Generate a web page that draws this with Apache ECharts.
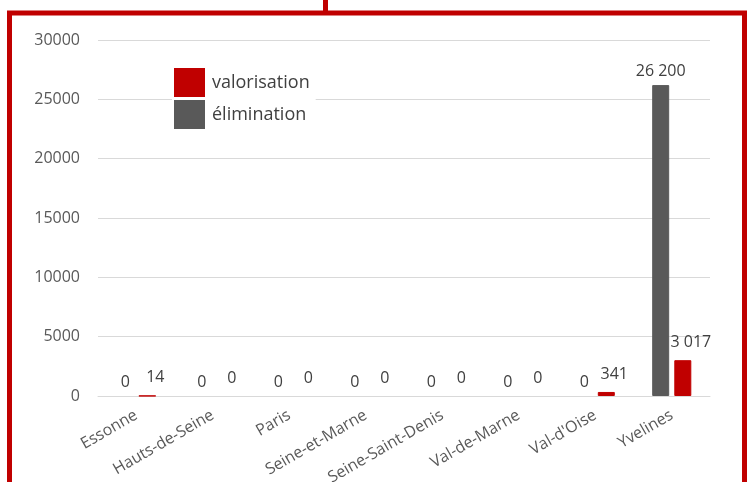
<!DOCTYPE html>
<html>
<head>
<meta charset="utf-8">
<script src="https://cdn.jsdelivr.net/npm/echarts@6/dist/echarts.min.js"></script>
<style>
html,body{margin:0;padding:0;background:#fff;}
#c{width:748px;height:482px;}
</style>
</head>
<body>
<div id="c"></div>
<script>
const categories = ['Essonne','Hauts-de-Seine','Paris','Seine-et-Marne','Seine-Saint-Denis','Val-de-Marne',"Val-d'Oise",'Yvelines'];
const elimination = [0,0,0,0,0,0,0,26200];
const valorisation = [14,0,0,0,0,0,341,3017];
const yTicks = {min:0, max:30000, interval:5000};

const FONT = '"Open Sans", sans-serif';
const fmt = v => String(v.value).replace(/\B(?=(\d{3})+(?!\d))/g, ' ');
const withEdge = (arr, color) => arr.map(v => ({value:v, itemStyle: v > 0 ? {borderColor:color, borderWidth:1} : {}}));

const chart = echarts.init(document.getElementById('c'), null, {renderer:'canvas'});
chart.setOption({
  animation:false,
  backgroundColor:'#ffffff',
  textStyle:{fontFamily:FONT},
  grid:{left:98, right:38, top:40, bottom:86, containLabel:false, outerBoundsMode:'none'},
  legend:{
    orient:'vertical', left:172, top:66,
    data:['valorisation','élimination'],
    itemWidth:31, itemHeight:29, itemGap:3,
    icon:'rect',
    backgroundColor:'#ffffff',
    padding:[2,6,2,2],
    textStyle:{fontSize:18, color:'#404040', fontFamily:FONT, padding:[0,0,0,2]}
  },
  xAxis:{
    type:'category', data:categories,
    axisLine:{show:true, lineStyle:{color:'#d9d9d9', width:1}},
    axisTick:{show:false},
    axisLabel:{rotate:30, color:'#595959', fontSize:16, fontFamily:FONT, margin:18, interval:0}
  },
  yAxis:{
    type:'value', min:yTicks.min, max:yTicks.max, interval:yTicks.interval,
    axisLine:{show:false}, axisTick:{show:false},
    splitLine:{lineStyle:{color:'#d9d9d9', width:1}},
    axisLabel:{color:'#595959', fontSize:16, fontFamily:FONT, margin:18, formatter:v => String(v)}
  },
  series:[
    {name:'élimination', type:'bar', data:withEdge(elimination,'#595959'), barWidth:17, barGap:'30%',
     itemStyle:{color:'#595959'},
     label:{show:true, position:'top', distance:6, color:'#404040', fontSize:16, fontFamily:FONT, formatter:fmt}},
    {name:'valorisation', type:'bar', data:withEdge(valorisation,'#c00000'), barWidth:17, barGap:'30%',
     itemStyle:{color:'#c00000'},
     label:{show:true, position:'top', distance:10, offset:[8,0], color:'#404040', fontSize:16, fontFamily:FONT, formatter:fmt}}
  ],
  graphic:[
    {type:'rect', shape:{x:9.5, y:13, width:735, height:500}, style:{fill:null, stroke:'#c00000', lineWidth:5}, silent:true, z:100},
    {type:'rect', shape:{x:323, y:0, width:5, height:11}, style:{fill:'#c00000'}, silent:true, z:100}
  ]
});
</script>
</body>
</html>
